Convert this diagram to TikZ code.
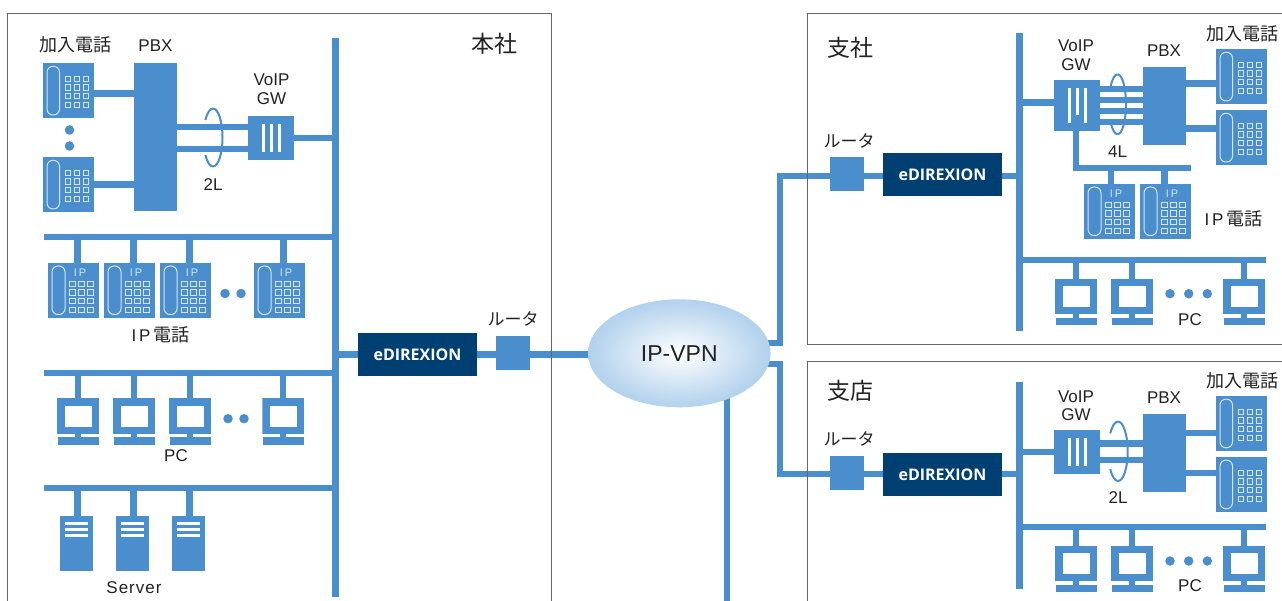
\documentclass[tikz,border=0pt]{standalone}
\usepackage{fontspec}
\setmainfont{Liberation Sans}
\newfontfamily\cjk{Noto Sans CJK JP}
\newfontfamily\brandfont{Open Sans}
\usetikzlibrary{shapes.geometric,backgrounds}
\definecolor{netblue}{HTML}{4A8ECD}
\definecolor{navyblue}{HTML}{003F72}
\definecolor{keyline}{HTML}{D5E5F4}
\definecolor{inktext}{HTML}{222222}
\definecolor{framegray}{HTML}{666666}
\definecolor{glowout}{HTML}{82B7E4}
\definecolor{glowmid}{HTML}{BAD6EF}
\pgfdeclareradialshading{vpnglow}{\pgfpoint{0bp}{0bp}}{color(0bp)=(white);color(22bp)=(glowmid);color(42bp)=(glowout);color(100bp)=(glowout)}
\newcommand{\wireloop}[3]{
    \draw[wire ring] ([yshift=#3]#1) arc[start angle=90, end angle=-90, x radius=#2, y radius=#3];
    \draw[wire ring] ([yshift=#3]#1) arc[start angle=90, end angle=143, x radius=#2, y radius=#3];
    \draw[wire ring] ([yshift=-#3]#1) arc[start angle=270, end angle=217, x radius=#2, y radius=#3];
}

\begin{document}
\begin{tikzpicture}[x=1pt, y=-1pt]
        \tikzstyle{solid box} = [rectangle, fill=netblue, inner sep=0, outer sep=0]
        \tikzstyle{phone} = [solid box, minimum width=51, minimum height=55, path picture={
            \draw[keyline, line width=1, rounded corners=6pt] (-21.5,-24.2) rectangle (-9,24.5);
            \foreach \kx in {-0.8,8.2,17.2} \foreach \ky in {-11.5,-3,5.8,14.8}
                \draw[keyline, line width=1] (\kx-2.7,\ky-2.7) rectangle (\kx+2.7,\ky+2.7);}]
        \tikzstyle{ip phone} = [solid box, minimum width=51, minimum height=55, path picture={
            \draw[keyline, line width=1, rounded corners=6pt] (-21.5,-24.5) rectangle (-8.5,24);
            \node[text=keyline, inner sep=0, font=\fontsize{11}{11}\selectfont](iptag) at(6.5, -18) {I\,P};
            \foreach \kx in {-1.2,7.8,16.8} \foreach \ky in {-6.5,2.2,10.8,19.8}
                \draw[keyline, line width=1] (\kx-2.7,\ky-2.7) rectangle (\kx+2.7,\ky+2.7);}]
        \tikzstyle{pc} = [rectangle, inner sep=0, outer sep=0, minimum width=42, minimum height=46.5, path picture={
            \fill[netblue] (-21,-23.25) rectangle (21,12.45);
            \fill[white] (-13.5,-15.85) rectangle (13.5,5.15);
            \fill[netblue] (-3,11.75) rectangle (3,16.75);
            \fill[netblue] (-20.3,15.75) rectangle (21,23.25);}]
        \tikzstyle{server} = [solid box, minimum width=33, minimum height=55, path picture={
            \foreach \by in {-19.8,-14.2,-8.5}
                \fill[white] (-11.2,\by-1.5) rectangle (11.5,\by+1.5);}]
        \tikzstyle{gateway} = [solid box, minimum width=46, path picture={
            \foreach \bx in {-7.5,0.5,8.5}
                \draw[white, line width=3.3] ([xshift=\bx pt, yshift=-8pt]path picture bounding box.north) -- ([xshift=\bx pt, yshift=8pt]path picture bounding box.south);}]
        \tikzstyle{pbx} = [solid box, minimum width=43]
        \tikzstyle{router} = [solid box, minimum size=34]
        \tikzstyle{edirexion} = [rectangle, fill=navyblue, text=white, inner sep=0, outer sep=0, minimum width=119, minimum height=43, font=\brandfont\bfseries\fontsize{16}{16}\selectfont]
        \tikzstyle{trunk} = [solid box, minimum width=6.6]
        \tikzstyle{dot mark} = [circle, fill=netblue, inner sep=0, minimum size=9.5]
        \tikzstyle{vpn cloud} = [ellipse, inner sep=0, outer sep=0, minimum width=182.6, minimum height=108, shading=vpnglow, text=inktext, font=\fontsize{23}{24}\selectfont]
        \tikzstyle{caption} = [text=inktext, inner sep=0, align=center, font=\fontsize{17}{18.5}\selectfont]
        \tikzstyle{cjk caption} = [text=inktext, inner sep=0, align=center, font=\cjk\fontsize{18}{19}\selectfont]
        \tikzstyle{router caption} = [cjk caption, font=\cjk\fontsize{17}{18}\selectfont]
        \tikzstyle{site name} = [text=inktext, inner sep=0, font=\cjk\fontsize{23}{24}\selectfont]
        \tikzstyle{cable} = [netblue, line width=6.3]
        \tikzstyle{wire ring} = [netblue, line width=2]
        \tikzstyle{frame} = [framegray, line width=1]

        \useasboundingbox (0,0) rectangle (1282,601);

        % head office
        \node[site name](nameA) at(494, 44) {本社};
        \node[cjk caption](subA) at(75, 45) {加入電話};
        \node[caption](pbxtextA) at(155.5, 46) {PBX};
        \node[caption](gwtextA) at(271.5, 89) {VoIP\\GW};
        \node[caption](lineA) at(213, 185) {2L};
        \node[caption](iptextA) at(160.5, 335) {I\,P\,{\cjk\fontsize{18}{19}\selectfont 電話}};
        \node[caption](pctextA) at(176, 456) {PC};
        \node[caption, font=\addfontfeature{LetterSpace=6}\fontsize{17}{18}\selectfont](servertext) at(134, 588) {Server};
        \node[router caption](routertextA) at(513, 319) {ルータ};

        \node[trunk, minimum height=559](trunkA) at(335.5, 317.5) {};
        \node[phone](phoneA1) at(68.5, 90.5) {};
        \node[phone](phoneA2) at(68.5, 184.5) {};
        \node[dot mark](dotA1) at(69.5, 130) {};
        \node[dot mark](dotA2) at(69.5, 146) {};
        \node[pbx, minimum height=148](pbxA) at(155.5, 137) {};
        \node[gateway, minimum height=44](gwA) at(271, 138) {};

        \node[ip phone](ipA1) at(73.5, 290.5) {};
        \node[ip phone](ipA2) at(129.5, 290.5) {};
        \node[ip phone](ipA3) at(185.5, 290.5) {};
        \node[ip phone](ipA4) at(279.5, 290.5) {};
        \node[dot mark](dotA3) at(225, 293.5) {};
        \node[dot mark](dotA4) at(241, 293.5) {};

        \node[pc](pcA1) at(78, 421.5) {};
        \node[pc](pcA2) at(134, 421.5) {};
        \node[pc](pcA3) at(190, 421.5) {};
        \node[pc](pcA4) at(283.3, 421.5) {};
        \node[dot mark](dotA5) at(228, 418.7) {};
        \node[dot mark](dotA6) at(244, 418.7) {};

        \node[server](serverA1) at(76.5, 543.5) {};
        \node[server](serverA2) at(132.5, 543.5) {};
        \node[server](serverA3) at(188.5, 543.5) {};

        \node[edirexion](edirA) at(417.5, 354.5) {eDIREXION};
        \node[router](routerA) at(513, 353) {};
        \node[vpn cloud](vpn) at(679.3, 353.3) {IP-VPN};

        % head office and carrier links
        \coordinate (ipEndA) at(44, 237);
        \coordinate (pcEndA) at(44, 373);
        \coordinate (serverEndA) at(44, 488);
        \coordinate (ringA) at(213, 137.5);
        \coordinate (vpnEnd) at(727, 601);
        \begin{scope}[on background layer]
            \draw[cable] ([yshift=-3pt]phoneA1.center) -- ([yshift=-3pt]phoneA1.center -| pbxA.center);
            \draw[cable] (phoneA2.center) -- (phoneA2.center -| pbxA.center);
            \draw[cable] ([yshift=10.8pt]gwA.center) -- ([yshift=10.8pt]gwA.center -| pbxA.center);
            \draw[cable] ([yshift=-10.8pt]gwA.center) -- ([yshift=-10.8pt]gwA.center -| pbxA.center);
            \draw[cable] (gwA.center) -- (gwA.center -| trunkA.center);
            \draw[cable] (ipEndA) -- (ipEndA -| trunkA.center);
            \draw[cable] (pcEndA) -- (pcEndA -| trunkA.center);
            \draw[cable] (serverEndA) -- (serverEndA -| trunkA.center);
            \draw[cable] ([xshift=4pt]ipA1.north) -- ([xshift=4pt]ipA1.north |- ipEndA);
            \draw[cable] ([xshift=4pt]ipA2.north) -- ([xshift=4pt]ipA2.north |- ipEndA);
            \draw[cable] ([xshift=4pt]ipA3.north) -- ([xshift=4pt]ipA3.north |- ipEndA);
            \draw[cable] ([xshift=4pt]ipA4.north) -- ([xshift=4pt]ipA4.north |- ipEndA);
            \draw[cable] (pcA1.north) -- (pcA1.north |- pcEndA);
            \draw[cable] (pcA2.north) -- (pcA2.north |- pcEndA);
            \draw[cable] (pcA3.north) -- (pcA3.north |- pcEndA);
            \draw[cable] (pcA4.north) -- (pcA4.north |- pcEndA);
            \draw[cable] ([xshift=1pt]serverA1.north) -- ([xshift=1pt]serverA1.north |- serverEndA);
            \draw[cable] ([xshift=1pt]serverA2.north) -- ([xshift=1pt]serverA2.north |- serverEndA);
            \draw[cable] ([xshift=1pt]serverA3.north) -- ([xshift=1pt]serverA3.north |- serverEndA);
            \draw[cable] (edirA.center -| trunkA.center) -- (edirA.center -| vpn.center);
            \draw[cable] (vpnEnd) -- (vpnEnd |- vpn.center);
        \end{scope}
        \wireloop{ringA}{9.5pt}{29pt}

        % main branch
        \node[site name](nameB) at(850, 48) {支社};
        \node[router caption](routertextB) at(849, 141) {ルータ};
        \node[caption](gwtextB) at(1076, 55) {VoIP\\GW};
        \node[caption](pbxtextB) at(1164, 51) {PBX};
        \node[cjk caption](subB) at(1242.5, 34) {加入電話};
        \node[caption](lineB) at(1117.5, 152) {4L};
        \node[caption](iptextB) at(1233.5, 219) {I\,P\,{\cjk\fontsize{18}{19}\selectfont 電話}};
        \node[caption](pctextB) at(1190, 320) {PC};

        \node[trunk, minimum height=298](trunkB) at(1019.3, 182) {};
        \node[router](routerB) at(847, 174) {};
        \node[edirexion](edirB) at(942.5, 174.5) {eDIREXION};
        \node[gateway, minimum height=50.7](gwB) at(1077, 105.5) {};
        \node[pbx, minimum height=77.7](pbxB) at(1164.7, 105.8) {};
        \node[phone](phoneB1) at(1241.5, 76.5) {};
        \node[phone](phoneB2) at(1241.5, 137.5) {};
        \node[ip phone](ipB1) at(1109.5, 211.5) {};
        \node[ip phone](ipB2) at(1165.5, 211.5) {};
        \node[pc](pcB1) at(1076, 301.8) {};
        \node[pc](pcB2) at(1132, 301.8) {};
        \node[pc](pcB3) at(1244, 301.8) {};
        \node[dot mark](dotB1) at(1170, 293.7) {};
        \node[dot mark](dotB2) at(1188.7, 293.7) {};
        \node[dot mark](dotB3) at(1207.3, 293.7) {};

        \coordinate (turnB) at(780, 176);
        \coordinate (ipEndB) at(1191, 168.3);
        \coordinate (pcEndB) at(1265.7, 260);
        \coordinate (ringB) at(1117.5, 104.3);
        \begin{scope}[on background layer]
            \draw[cable] ([yshift=10.5pt]vpn.center) -| (turnB) -- (turnB -| trunkB.center);
            \draw[cable] ([yshift=3pt]gwB.center) -- ([yshift=3pt]gwB.center -| trunkB.center);
            \draw[cable] ([yshift=16.5pt]gwB.center) -- ([yshift=16.5pt]gwB.center -| pbxB.center);
            \draw[cable] ([yshift=5.2pt]gwB.center) -- ([yshift=5.2pt]gwB.center -| pbxB.center);
            \draw[cable] ([yshift=-5.5pt]gwB.center) -- ([yshift=-5.5pt]gwB.center -| pbxB.center);
            \draw[cable] ([yshift=-16.5pt]gwB.center) -- ([yshift=-16.5pt]gwB.center -| pbxB.center);
            \draw[cable] ([yshift=-7pt]phoneB1.center) -- ([yshift=-7pt]phoneB1.center -| pbxB.center);
            \draw[cable] ([yshift=9pt]phoneB2.center) -- ([yshift=9pt]phoneB2.center -| pbxB.center);
            \draw[cable] ([xshift=1.5pt]ipB1.north) -- ([xshift=1.5pt]ipB1.north |- ipEndB);
            \draw[cable] ([xshift=-1pt]ipB2.north) -- ([xshift=-1pt]ipB2.north |- ipEndB);
            \draw[cable] (pcEndB) -- (pcEndB -| trunkB.center);
            \draw[cable] (pcB1.north) -- (pcB1.north |- pcEndB);
            \draw[cable] (pcB2.north) -- (pcB2.north |- pcEndB);
            \draw[cable] (pcB3.north) -- (pcB3.north |- pcEndB);
        \end{scope}
        \draw[cable] ([xshift=-0.7pt, yshift=-10pt]gwB.center) |- (ipEndB);
        \wireloop{ringB}{8.5pt}{30pt}

        % sales office
        \node[site name](nameC) at(850, 391) {支店};
        \node[router caption](routertextC) at(849, 439) {ルータ};
        \node[caption](gwtextC) at(1076, 405.5) {VoIP\\GW};
        \node[caption](pbxtextC) at(1164, 398) {PBX};
        \node[cjk caption](subC) at(1242.5, 381) {加入電話};
        \node[caption](lineC) at(1118, 498) {2L};
        \node[caption](pctextC) at(1190, 586) {PC};

        \node[trunk, minimum height=207.4](trunkC) at(1019.3, 485.3) {};
        \node[router](routerC) at(847, 473) {};
        \node[edirexion](edirC) at(942.5, 474.5) {eDIREXION};
        \node[gateway, minimum height=43.7](gwC) at(1077, 451.8) {};
        \node[pbx, minimum height=77.7](pbxC) at(1164.7, 452.8) {};
        \node[phone](phoneC1) at(1241.5, 423.3) {};
        \node[phone](phoneC2) at(1241.5, 484.3) {};
        \node[pc](pcC1) at(1076, 569) {};
        \node[pc](pcC2) at(1132, 569) {};
        \node[pc](pcC3) at(1244, 569) {};
        \node[dot mark](dotC1) at(1170, 561) {};
        \node[dot mark](dotC2) at(1188.7, 561) {};
        \node[dot mark](dotC3) at(1207.3, 561) {};

        \coordinate (turnC) at(780, 474);
        \coordinate (pcEndC) at(1265.7, 527.3);
        \coordinate (ringC) at(1118, 451.3);
        \begin{scope}[on background layer]
            \draw[cable] ([yshift=-11pt]vpn.center) -| (turnC) -- (turnC -| trunkC.center);
            \draw[cable] (gwC.center) -- (gwC.center -| trunkC.center);
            \draw[cable] ([yshift=8.4pt]gwC.center) -- ([yshift=8.4pt]gwC.center -| pbxC.center);
            \draw[cable] ([yshift=-8.4pt]gwC.center) -- ([yshift=-8.4pt]gwC.center -| pbxC.center);
            \draw[cable] ([yshift=-10pt]phoneC1.center) -- ([yshift=-10pt]phoneC1.center -| pbxC.center);
            \draw[cable] ([yshift=11pt]phoneC2.center) -- ([yshift=11pt]phoneC2.center -| pbxC.center);
            \draw[cable] (pcEndC) -- (pcEndC -| trunkC.center);
            \draw[cable] (pcC1.north) -- (pcC1.north |- pcEndC);
            \draw[cable] (pcC2.north) -- (pcC2.north |- pcEndC);
            \draw[cable] (pcC3.north) -- (pcC3.north |- pcEndC);
        \end{scope}
        \wireloop{ringC}{9.7pt}{29.7pt}

        \draw[frame] (7,601) |- (551,14) -- (551,601);
        \draw[frame] (1282,14) -| (807,345) -- (1282,345);
        \draw[frame] (1282,362) -| (807,601);
    \end{tikzpicture}
\end{document}
